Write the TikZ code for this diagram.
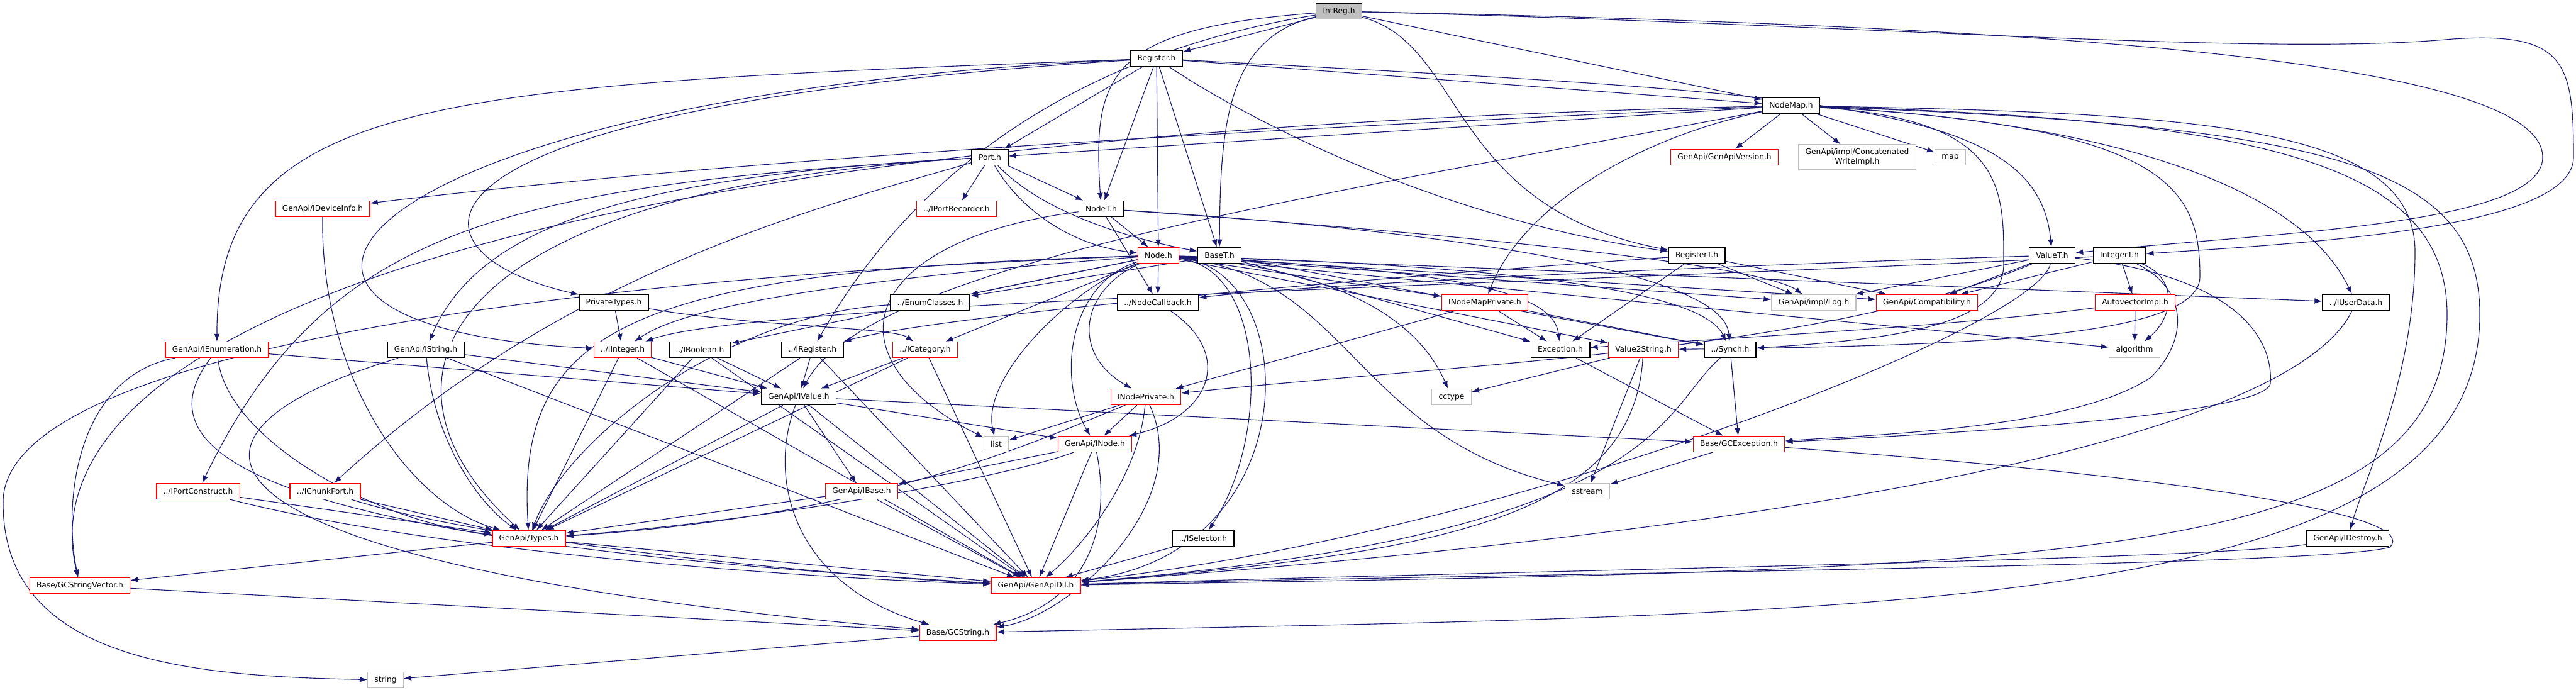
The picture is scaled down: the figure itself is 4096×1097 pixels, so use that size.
\documentclass[tikz,border=0pt]{standalone}
\usepackage{fontspec}
\setmainfont{DejaVu Sans}
\usetikzlibrary{arrows.meta}
\definecolor{edgeblue}{HTML}{191970}
\definecolor{boxred}{HTML}{FF0000}
\definecolor{boxgrey}{HTML}{BFBFBF}
\tikzstyle{file} = [rectangle, draw=black, line width=1.1pt, fill=white, minimum height=0.625cm,
inner xsep=0.27cm, inner ysep=0pt, text=black, font=\fontsize{8.7}{10.5}\selectfont]
\tikzstyle{truncated} = [file, draw=boxred, line width=0.9pt]
\tikzstyle{external} = [file, draw=boxgrey, line width=0.9pt]
\tikzstyle{current} = [file, fill=boxgrey]
\tikzstyle{arrow} = [line width=0.8pt, draw=edgeblue, -{Latex[length=3mm,width=2.2mm]}]
\pgfdeclarelayer{edges}
\pgfsetlayers{edges,main}
\begin{document}
\begin{tikzpicture}[x=0.025cm, y=-0.025cm]
\useasboundingbox (0,0) rectangle (4096,1097);

% ------------------------- nodes -------------------------
% ----- rank 0..2
\node(intreg)[current] at (2129,18) {IntReg.h};
\node(reg)[file] at (1839,93) {Register.h};
\node(nodemap)[file] at (2848,168) {NodeMap.h};
% ----- rank 3
\node(port)[file] at (1574,250) {Port.h};
\node(genapiver)[truncated] at (2742,250) {GenApi/GenApiVersion.h};
\node(concat)[external, align=center, minimum height=1.0cm] at (2953,250) {GenApi/impl/Concatenated\\WriteImpl.h};
\node(map)[external] at (3101,250) {map};
% ----- rank 4
\node(ideviceinfo)[truncated] at (513,332) {GenApi/IDeviceInfo.h};
\node(iportrec)[truncated] at (1521,332) {../IPortRecorder.h};
\node(nodet)[file] at (1751,332) {NodeT.h};
% ----- rank 5
\node(node)[truncated] at (1842,406) {Node.h};
\node(baset)[file] at (1939,406) {BaseT.h};
\node(registert)[file] at (2698,406) {RegisterT.h};
\node(valuet)[file] at (3263,406) {ValueT.h};
\node(integert)[file] at (3370,406) {IntegerT.h};
% ----- rank 6
\node(privtypes)[file] at (976,481) {PrivateTypes.h};
\node(enumcl)[file] at (1479,481) {../EnumClasses.h};
\node(nodecb)[file] at (1841,481) {../NodeCallback.h};
\node(inodemapp)[truncated] at (2361,481) {INodeMapPrivate.h};
\node(log)[external] at (2884,481) {GenApi/impl/Log.h};
\node(compat)[truncated] at (3064,481) {GenApi/Compatibility.h};
\node(autovec)[truncated] at (3395,481) {AutovectorImpl.h};
\node(iuserdata)[file] at (3746,481) {../IUserData.h};
% ----- rank 7
\node(ienum)[truncated] at (345,556) {GenApi/IEnumeration.h};
\node(istring)[file] at (677,556) {GenApi/IString.h};
\node(iinteger)[truncated] at (990,556) {../IInteger.h};
\node(iboolean)[file] at (1113,556) {../IBoolean.h};
\node(iregister)[file] at (1292,556) {../IRegister.h};
\node(icategory)[truncated] at (1471,556) {../ICategory.h};
\node(exception)[file] at (2481,556) {Exception.h};
\node(val2str)[truncated] at (2613,556) {Value2String.h};
\node(synch)[file] at (2751,556) {../Synch.h};
\node(algorithm)[external] at (3394,556) {algorithm};
% ----- rank 8
\node(ivalue)[file] at (1270,631) {GenApi/IValue.h};
\node(inodep)[truncated] at (1822,631) {INodePrivate.h};
\node(cctype)[external] at (2308,631) {cctype};
% ----- rank 9
\node(list)[external] at (1584,706) {list};
\node(inode)[truncated] at (1741,706) {GenApi/INode.h};
\node(gcexc)[truncated] at (2765,706) {Base/GCException.h};
% ----- rank 10
\node(iportcons)[truncated] at (315,781) {../IPortConstruct.h};
\node(ichunk)[truncated] at (517,781) {../IChunkPort.h};
\node(ibase)[truncated] at (1370,781) {GenApi/IBase.h};
\node(sstream)[external] at (2524,781) {sstream};
% ----- rank 11..13
\node(types)[truncated] at (841,856) {GenApi/Types.h};
\node(iselector)[file] at (1913,856) {../ISelector.h};
\node(idestroy)[file] at (3733,856) {GenApi/IDestroy.h};
\node(gcstrvec)[truncated] at (127,931) {Base/GCStringVector.h};
\node(dll)[truncated] at (1647,931) {GenApi/GenApiDll.h};
\node(gcstring)[truncated] at (1523,1006) {Base/GCString.h};
\node(string)[external] at (613,1081) {string};

% ------------------------- connections -------------------------
\begin{pgfonlayer}{edges}
\fill[white] (0,0) rectangle (4096,1097);
% IntReg.h
\draw[arrow](intreg)--(reg);
\draw[arrow](intreg)--(nodemap);
\draw[arrow](intreg) .. controls (1760,45) and (1737,120) .. (nodet);
\draw[arrow](intreg) .. controls (1650,95) and (1420,330) .. (iregister);
\draw[arrow](intreg) .. controls (1950,60) and (1940,200) .. (baset);
\draw[arrow](intreg) .. controls (2330,70) and (2300,330) .. (registert);
\draw[arrow](intreg) .. controls (3200,40) and (4043,90) .. (4043,250) .. controls (4043,360) and (3600,370) .. (valuet);
\draw[arrow](intreg) .. controls (3000,40) and (3600,90) .. (3900,62) .. controls (4080,50) and (4092,100) .. (4092,250) .. controls (4092,360) and (3700,385) .. (integert);
% Register.h
\draw[arrow](reg)--(port);
\draw[arrow](reg)--(nodet);
\draw[arrow](reg)--(node);
\draw[arrow](reg)--(baset);
\draw[arrow](reg)--(nodemap);
\draw[arrow](reg) .. controls (2000,200) and (2300,350) .. (registert);
\draw[arrow](reg) .. controls (2900,150) and (3240,160) .. (valuet);
\draw[arrow](reg) .. controls (700,135) and (344,150) .. (ienum);
\draw[arrow](reg) .. controls (550,150) and (250,520) .. (iinteger);
\draw[arrow](reg) .. controls (600,170) and (620,400) .. (privtypes);
% NodeMap.h
\draw[arrow](nodemap)--(genapiver);
\draw[arrow](nodemap)--(concat);
\draw[arrow](nodemap)--(map);
\draw[arrow](nodemap)--(port);
\draw[arrow](nodemap) .. controls (2000,205) and (1200,250) .. (ideviceinfo);
\draw[arrow](nodemap) .. controls (700,215) and (40,560) .. (gcstrvec);
\draw[arrow](nodemap) .. controls (2600,220) and (2420,330) .. (inodemapp);
\draw[arrow](nodemap) .. controls (2100,310) and (1380,420) .. (ivalue);
\draw[arrow](nodemap) .. controls (3300,190) and (3650,280) .. (iuserdata);
\draw[arrow](nodemap) .. controls (3190,190) and (3186,300) .. (3186,420) .. controls (3186,520) and (3000,540) .. (synch);
\draw[arrow](nodemap) .. controls (3450,200) and (3498,300) .. (3498,440) .. controls (3498,540) and (3100,550) .. (val2str);
\draw[arrow](nodemap) .. controls (3500,180) and (3840,200) .. (3840,400) .. controls (3840,600) and (3760,760) .. (idestroy);
\draw[arrow](nodemap) .. controls (3600,190) and (3891,260) .. (3891,500) .. controls (3891,900) and (3300,905) .. (dll);
\draw[arrow](nodemap) .. controls (3700,200) and (3943,260) .. (3943,500) .. controls (3943,980) and (3000,975) .. (gcstring);
% Port.h
\draw[arrow](port)--(iportrec);
\draw[arrow](port)--(nodet);
\draw[arrow](port) .. controls (1620,330) and (1700,390) .. (node);
\draw[arrow](port) .. controls (1660,340) and (1800,380) .. (baset);
\draw[arrow](port) .. controls (1000,280) and (760,360) .. (istring);
\draw[arrow](port) .. controls (800,295) and (520,360) .. (iportcons);
\draw[arrow](port) .. controls (700,300) and (560,600) .. (types);
\draw[arrow](port) .. controls (1300,330) and (900,430) .. (ichunk);
% NodeT.h
\draw[arrow](nodet)--(node);
\draw[arrow](nodet)--(nodecb);
\draw[arrow](nodet) .. controls (1380,380) and (1300,560) .. (list);
\draw[arrow](nodet) .. controls (2200,360) and (2740,420) .. (synch);
\draw[arrow](nodet) .. controls (2300,370) and (2800,420) .. (log);
% Node.h
\draw[arrow](node)--(nodecb);
\draw[arrow](node)--(enumcl);
\draw[arrow](node) .. controls (1400,440) and (1100,480) .. (iinteger);
\draw[arrow](node)--(iboolean);
\draw[arrow](node)--(icategory);
\draw[arrow](node) .. controls (1720,460) and (1700,560) .. (inodep);
\draw[arrow](node) .. controls (1700,460) and (1560,600) .. (list);
\draw[arrow](node) .. controls (1700,450) and (1680,600) .. (inode);
\draw[arrow](node) .. controls (2017,430) and (2017,700) .. (iselector);
\draw[arrow](node) .. controls (2075,430) and (2080,880) .. (dll);
\draw[arrow](node) .. controls (2300,430) and (2470,460) .. (exception);
\draw[arrow](node)--(val2str);
\draw[arrow](node) .. controls (2300,420) and (2700,450) .. (synch);
\draw[arrow](node) .. controls (2150,430) and (2260,520) .. (cctype);
\draw[arrow](node) .. controls (2149,440) and (2149,690) .. (sstream);
\draw[arrow](node) .. controls (900,440) and (0,560) .. (5,800) .. controls (5,1050) and (300,1075) .. (string);
\draw[arrow](node)--(log);
\draw[arrow](node)--(compat);
\draw[arrow](node)--(iuserdata);
\draw[arrow](node)--(algorithm);
\draw[arrow](node) .. controls (1000,430) and (820,520) .. (types);
\draw[arrow](node)--(inodemapp);
% BaseT.h
\draw[arrow](baset)--(enumcl);
\draw[arrow](baset)--(synch);
\draw[arrow](baset)--(exception);
% RegisterT.h
\draw[arrow](registert)--(exception);
\draw[arrow](registert)--(log);
\draw[arrow](registert)--(compat);
\draw[arrow](registert) .. controls (2200,440) and (1500,500) .. (iregister);
% ValueT.h
\draw[arrow](valuet) .. controls (2800,420) and (2100,450) .. (nodecb);
\draw[arrow](valuet)--(log);
\draw[arrow](valuet)--(compat);
\draw[arrow](valuet) .. controls (2900,560) and (2300,580) .. (inodep);
\draw[arrow](valuet) .. controls (3560,440) and (3615,540) .. (3610,610) .. controls (3600,660) and (3100,690) .. (gcexc);
\draw[arrow](valuet) .. controls (3240,520) and (2400,850) .. (dll);
% IntegerT.h
\draw[arrow](integert)--(autovec);
\draw[arrow](integert) .. controls (3460,440) and (3460,500) .. (algorithm);
\draw[arrow](integert)--(compat);
\draw[arrow](integert) .. controls (3480,460) and (3480,540) .. (3420,600) .. controls (3300,680) and (3000,690) .. (gcexc);
\draw[arrow](integert) .. controls (2500,450) and (1200,480) .. (iinteger);
% INodeMapPrivate.h
\draw[arrow](inodemapp)--(exception);
\draw[arrow](inodemapp)--(synch);
\draw[arrow](inodemapp)--(inodep);
% Exception.h, Value2String.h, Synch.h, GCException.h
\draw[arrow](exception)--(gcexc);
\draw[arrow](val2str)--(cctype);
\draw[arrow](val2str)--(sstream);
\draw[arrow](val2str) .. controls (2597,820) and (2300,880) .. (dll);
\draw[arrow](synch)--(gcexc);
\draw[arrow](synch) .. controls (2640,650) and (2650,850) .. (dll);
\draw[arrow](gcexc)--(sstream);
\draw[arrow](gcexc) .. controls (3500,760) and (3850,820) .. (3800,870) .. controls (3700,900) and (2500,910) .. (dll);
% AutovectorImpl.h, IUserData.h, IDestroy.h
\draw[arrow](autovec)--(algorithm);
\draw[arrow](autovec) .. controls (3100,520) and (2700,540) .. (exception);
\draw[arrow](iuserdata) .. controls (3680,620) and (3300,810) .. (dll);
\draw[arrow](idestroy) .. controls (3500,890) and (2500,905) .. (dll);
% INodePrivate.h, INode.h, IValue.h, IBase.h
\draw[arrow](inodep)--(inode);
\draw[arrow](inodep)--(list);
\draw[arrow](inodep) .. controls (1650,700) and (1400,820) .. (types);
\draw[arrow](inodep) .. controls (1810,760) and (1720,870) .. (dll);
\draw[arrow](inodep) .. controls (1900,800) and (1700,980) .. (gcstring);
\draw[arrow](inode)--(ibase);
\draw[arrow](inode) .. controls (1600,760) and (1200,830) .. (types);
\draw[arrow](inode)--(dll);
\draw[arrow](inode) .. controls (1770,850) and (1720,960) .. (gcstring);
\draw[arrow](ivalue)--(inode);
\draw[arrow](ivalue)--(ibase);
\draw[arrow](ivalue)--(types);
\draw[arrow](ivalue)--(dll);
\draw[arrow](ivalue) .. controls (1220,760) and (1260,930) .. (gcstring);
\draw[arrow](ivalue)--(gcexc);
\draw[arrow](ibase)--(types);
\draw[arrow](ibase)--(dll);
\draw[arrow](iselector)--(dll);
\draw[arrow](nodecb) .. controls (1960,560) and (1930,660) .. (inode);
\draw[arrow](enumcl) .. controls (1150,500) and (900,700) .. (types);
% interface headers
\draw[arrow](iinteger)--(ivalue);
\draw[arrow](iinteger)--(types);
\draw[arrow](iinteger)--(dll);
\draw[arrow](iboolean)--(ivalue);
\draw[arrow](iboolean)--(types);
\draw[arrow](iboolean)--(dll);
\draw[arrow](iregister)--(ivalue);
\draw[arrow](iregister)--(types);
\draw[arrow](iregister)--(dll);
\draw[arrow](icategory)--(ivalue);
\draw[arrow](icategory)--(types);
\draw[arrow](icategory)--(dll);
\draw[arrow](ienum)--(ivalue);
\draw[arrow](ienum) .. controls (360,700) and (600,830) .. (types);
\draw[arrow](ienum) .. controls (120,600) and (100,800) .. (gcstrvec);
\draw[arrow](ienum) .. controls (220,720) and (400,860) .. (dll);
\draw[arrow](istring)--(ivalue);
\draw[arrow](istring) .. controls (690,700) and (760,800) .. (types);
\draw[arrow](istring)--(dll);
\draw[arrow](istring) .. controls (200,700) and (300,900) .. (gcstring);
\draw[arrow](iportcons)--(types);
\draw[arrow](iportcons) .. controls (700,880) and (1300,920) .. (dll);
\draw[arrow](ichunk)--(types);
\draw[arrow](ichunk) .. controls (800,870) and (1400,920) .. (dll);
\draw[arrow](ideviceinfo) .. controls (510,600) and (650,800) .. (types);
\draw[arrow](privtypes)--(iinteger);
\draw[arrow](privtypes) .. controls (1200,520) and (1420,520) .. (icategory);
% base headers
\draw[arrow](types)--(gcstrvec);
\draw[arrow](types)--(dll);
\draw[arrow](gcstrvec)--(gcstring);
\draw[arrow](gcstring)--(string);
\end{pgfonlayer}
\end{tikzpicture}
\end{document}
